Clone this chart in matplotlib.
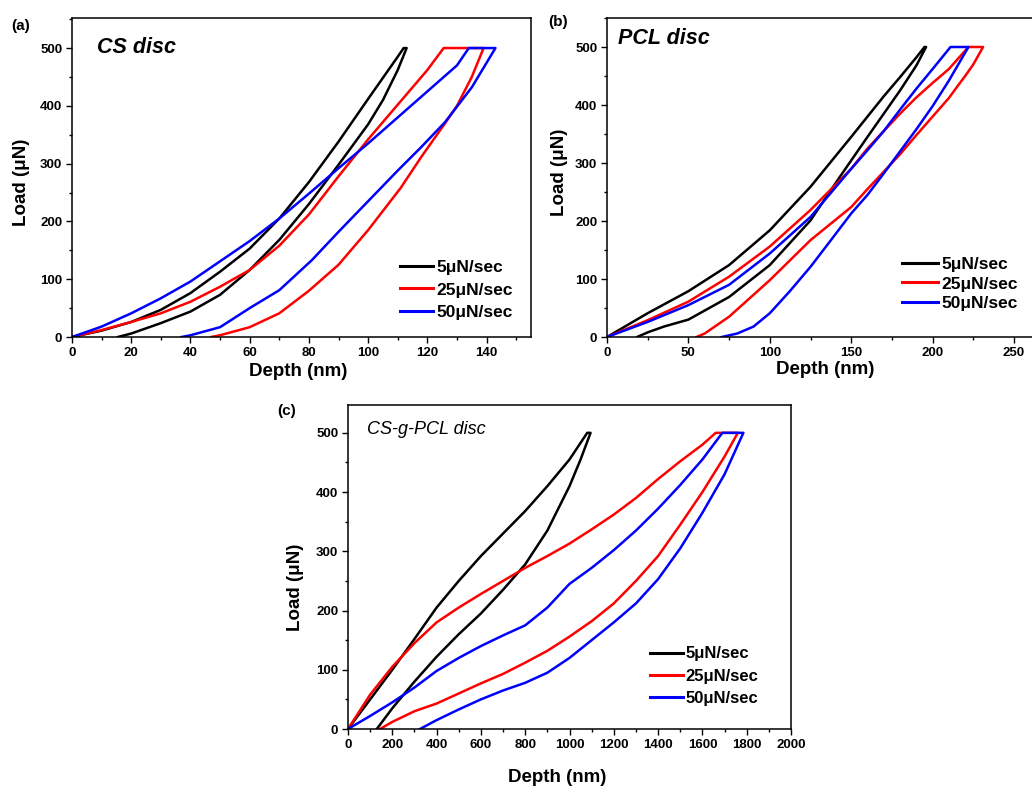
import matplotlib
matplotlib.use('Agg')
import matplotlib.pyplot as plt
from matplotlib.ticker import MultipleLocator

plt.rcParams['font.family'] = ['Liberation Sans', 'DejaVu Sans']
plt.rcParams['font.weight'] = 'bold'

W, H = 1032, 789

rates = ['5μN/sec', '25μN/sec', '50μN/sec']
colors = ['black', 'red', 'blue']

# ---- (a) CS disc : loading (depth, load) and unloading (depth, load)
cs_load_5_x = [0, 10, 20, 30, 40, 50, 60, 70, 80, 90, 100, 110, 112]
cs_load_5_y = [0, 11, 26, 47, 76, 113, 153, 205, 268, 338, 412, 485, 500]
cs_unload_5_x = [15.5, 20, 30, 40, 50, 60, 70, 80, 90, 100, 105, 110, 113]
cs_unload_5_y = [0, 6, 24, 44, 73, 116, 168, 230, 298, 368, 410, 462, 500]

cs_load_25_x = [0, 10, 20, 30, 40, 50, 60, 70, 80, 90, 100, 110, 120, 125.5]
cs_load_25_y = [0, 12, 26, 41, 61, 87, 116, 158, 212, 278, 342, 402, 462, 500]
cs_unload_25_x = [47, 50, 60, 70, 80, 90, 100, 111, 118, 126, 130, 135, 139]
cs_unload_25_y = [0, 3, 17, 41, 80, 125, 185, 258, 312, 370, 400, 450, 500]

cs_load_50_x = [0, 10, 20, 30, 40, 50, 60, 70, 80, 90, 100, 110, 120, 130, 134]
cs_load_50_y = [0, 18, 41, 67, 96, 131, 166, 205, 248, 292, 335, 380, 425, 470, 500]
cs_unload_50_x = [37, 40, 50, 60, 70, 81, 90, 100, 110, 118, 126, 135, 143]
cs_unload_50_y = [0, 3, 17, 50, 81, 133, 182, 235, 288, 329, 372, 432, 500]

# ---- (b) PCL disc
pcl_load_5_x = [0, 25, 50, 75, 100, 125, 150, 160, 170, 180, 190, 195]
pcl_load_5_y = [0, 41, 79, 124, 184, 259, 345, 380, 415, 448, 482, 500]
pcl_unload_5_x = [18.5, 25, 35, 50, 75, 100, 125, 143, 160, 170, 180, 190, 196]
pcl_unload_5_y = [0, 8, 18, 30, 69, 124, 201, 276, 345, 385, 425, 468, 500]

pcl_load_25_x = [0, 25, 50, 75, 100, 125, 150, 160, 170, 180, 190, 200, 210, 222]
pcl_load_25_y = [0, 29, 61, 104, 156, 219, 290, 325, 355, 385, 413, 438, 462, 500]
pcl_unload_25_x = [55, 60, 75, 100, 125, 150, 160, 170, 180, 190, 200, 210, 216, 220, 225, 231]
pcl_unload_25_y = [0, 6, 35, 98, 167, 224, 255, 285, 315, 348, 380, 412, 435, 450, 470, 500]

pcl_load_50_x = [0, 25, 50, 75, 100, 125, 150, 160, 170, 180, 190, 200, 211]
pcl_load_50_y = [0, 26, 55, 90, 144, 207, 290, 322, 355, 392, 428, 462, 500]
pcl_unload_50_x = [70.5, 80, 90, 100, 112, 125, 137, 150, 160, 170, 180, 190, 200, 210, 222]
pcl_unload_50_y = [0, 6, 18, 41, 78, 121, 165, 213, 245, 282, 320, 358, 398, 442, 500]

# ---- (c) CS-g-PCL disc
gr_load_5_x = [0, 100, 200, 300, 400, 500, 600, 700, 800, 900, 1000, 1080]
gr_load_5_y = [0, 50, 100, 152, 205, 250, 292, 330, 368, 410, 455, 500]
gr_unload_5_x = [130, 200, 300, 400, 500, 600, 700, 800, 900, 1000, 1050, 1095]
gr_unload_5_y = [0, 35, 80, 122, 160, 195, 235, 278, 335, 410, 455, 500]

gr_load_25_x = [0, 100, 200, 300, 400, 500, 600, 700, 800, 900, 1000, 1100, 1200, 1300, 1400, 1500, 1600, 1660]
gr_load_25_y = [0, 58, 105, 145, 180, 205, 228, 250, 272, 292, 313, 337, 362, 390, 422, 452, 480, 500]
gr_unload_25_x = [145, 200, 300, 400, 500, 600, 700, 800, 900, 1000, 1100, 1200, 1300, 1400, 1500, 1600, 1700, 1760]
gr_unload_25_y = [0, 12, 30, 43, 60, 77, 93, 112, 132, 156, 182, 212, 250, 292, 345, 400, 460, 500]

gr_load_50_x = [0, 100, 200, 300, 400, 500, 600, 700, 800, 900, 1000, 1100, 1200, 1300, 1400, 1500, 1600, 1690]
gr_load_50_y = [0, 22, 45, 70, 98, 120, 140, 158, 175, 205, 245, 272, 302, 335, 372, 412, 455, 500]
gr_unload_50_x = [325, 400, 500, 600, 700, 800, 900, 1000, 1100, 1200, 1300, 1400, 1500, 1600, 1700, 1785]
gr_unload_50_y = [0, 15, 33, 50, 65, 78, 95, 120, 150, 180, 212, 253, 305, 365, 430, 500]


def fpos(x, y):
    return x / W, 1 - y / H


def make_axes(left, top, right, bottom):
    return fig.add_axes([left / W, 1 - bottom / H, (right - left) / W, (bottom - top) / H])


def draw_panel(ax, curves, xlim, xmaj, xmin, ylim):
    for (lx, ly, ux, uy), c, lab in zip(curves, colors, rates):
        xs = list(lx) + list(reversed(ux))
        ys = list(ly) + list(reversed(uy))
        ax.plot(xs, ys, color=c, lw=1.8, label=lab)
    ax.set_xlim(*xlim)
    ax.set_ylim(*ylim)
    ax.xaxis.set_major_locator(MultipleLocator(xmaj))
    ax.xaxis.set_minor_locator(MultipleLocator(xmin))
    ax.yaxis.set_major_locator(MultipleLocator(100))
    ax.yaxis.set_minor_locator(MultipleLocator(50))
    ax.tick_params(which='major', direction='out', length=4, width=1, labelsize=9.5, pad=3)
    ax.tick_params(which='minor', direction='out', length=2.5, width=1)
    for lbl in ax.get_xticklabels() + ax.get_yticklabels():
        lbl.set_fontweight('bold')
    for sp in ax.spines.values():
        sp.set_linewidth(1.1)


def add_legend(ax, x, y, size, spacing, hlen):
    leg = ax.legend(loc='center left', bbox_to_anchor=(x, y), frameon=False,
                    fontsize=size, handlelength=hlen, handletextpad=0.2,
                    labelspacing=spacing, borderaxespad=0, borderpad=0)
    for ln in leg.get_lines():
        ln.set_linewidth(2.2)


fig = plt.figure(figsize=(W / 100, H / 100), dpi=100)

# (a)
ax1 = make_axes(72, 18, 531, 337)
draw_panel(ax1, [(cs_load_5_x, cs_load_5_y, cs_unload_5_x, cs_unload_5_y),
                 (cs_load_25_x, cs_load_25_y, cs_unload_25_x, cs_unload_25_y),
                 (cs_load_50_x, cs_load_50_y, cs_unload_50_x, cs_unload_50_y)],
           (0, 155), 20, 10, (0, 552))
ax1.text(0.054, 0.909, 'CS disc', transform=ax1.transAxes, fontsize=15.5,
         fontweight='bold', fontstyle='italic', va='center', ha='left')
add_legend(ax1, (400 - 72) / 459, (337 - 290) / 319, 12.5, 0.4, 1.9)

# (b)
ax2 = make_axes(607, 18, 607 + 265 * 1.628, 337)
draw_panel(ax2, [(pcl_load_5_x, pcl_load_5_y, pcl_unload_5_x, pcl_unload_5_y),
                 (pcl_load_25_x, pcl_load_25_y, pcl_unload_25_x, pcl_unload_25_y),
                 (pcl_load_50_x, pcl_load_50_y, pcl_unload_50_x, pcl_unload_50_y)],
           (0, 265), 50, 25, (0, 550))
ax2.text(0.026, 0.937, 'PCL disc', transform=ax2.transAxes, fontsize=15.5,
         fontweight='bold', fontstyle='italic', va='center', ha='left')
add_legend(ax2, (902 - 607) / 431.4, (337 - 284) / 319, 12.5, 0.26, 2.05)

# (c)
ax3 = make_axes(348, 405, 791, 729)
draw_panel(ax3, [(gr_load_5_x, gr_load_5_y, gr_unload_5_x, gr_unload_5_y),
                 (gr_load_25_x, gr_load_25_y, gr_unload_25_x, gr_unload_25_y),
                 (gr_load_50_x, gr_load_50_y, gr_unload_50_x, gr_unload_50_y)],
           (0, 2000), 200, 100, (0, 547))
ax3.text(0.043, 0.923, 'CS-g-PCL disc', transform=ax3.transAxes, fontsize=13,
         fontweight='normal', fontstyle='italic', va='center', ha='left')
add_legend(ax3, (650 - 348) / 443, (729 - 676) / 324, 12, 0.43, 1.95)

# axis labels and panel letters
for (x, y) in [(22, 182), (560, 172), (296, 587)]:
    fig.text(*fpos(x, y), 'Load (μN)', rotation=90, fontsize=13.5, fontweight='bold',
             ha='center', va='center')
for (x, y) in [(298, 371), (825, 369), (557, 778)]:
    fig.text(*fpos(x, y), 'Depth (nm)', fontsize=13.5, fontweight='bold',
             ha='center', va='center')
for (x, y, s) in [(21, 26, '(a)'), (558, 22, '(b)'), (287, 411, '(c)')]:
    fig.text(*fpos(x, y), s, fontsize=11, fontweight='bold', ha='center', va='center')

fig.savefig('out.png', dpi=100)
